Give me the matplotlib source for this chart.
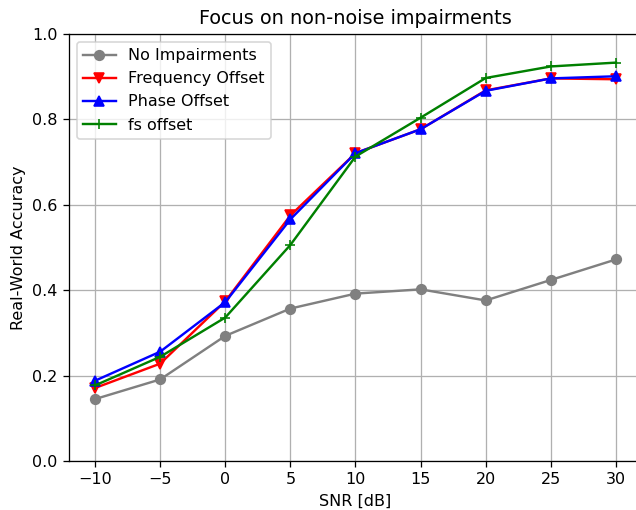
import numpy as np
import matplotlib.pyplot as plt

snr = [-10, -5, 0, 5, 10, 15, 20, 25, 30]
no_imp = [0.145, 0.191, 0.293, 0.357, 0.392, 0.402, 0.376, 0.424, 0.472]
freq_off = [0.171, 0.228, 0.374, 0.575, 0.721, 0.777, 0.868, 0.896, 0.894]
phase_off = [0.188, 0.256, 0.372, 0.566, 0.721, 0.777, 0.867, 0.896, 0.901]
fs_off = [0.177, 0.244, 0.336, 0.506, 0.713, 0.804, 0.897, 0.924, 0.933]

# reference looks like a default figure rendered at ~115 dpi, cropped on the right
dpi = 115.5
fig = plt.figure(figsize=(636 / dpi, 510 / dpi), dpi=dpi)
ax = fig.add_axes([69 / 636, 49 / 510, 573 / 636, 427 / 510])
ax.plot(snr, no_imp, 'o-', color='gray', label='No Impairments')
ax.plot(snr, freq_off, 'v-', color='red', label='Frequency Offset')
ax.plot(snr, phase_off, '^-', color='blue', label='Phase Offset')
ax.plot(snr, fs_off, '+-', color='green', label='fs offset')
ax.set_ylim(0, 1)
ax.set_xticks(snr)
ax.grid(True)
ax.spines['right'].set_visible(False)  # cut off in the reference
ax.set_title('Focus on non-noise impairments')
ax.set_xlabel('SNR [dB]')
ax.set_ylabel('Real-World Accuracy')
ax.legend(loc='upper left')
fig.savefig('out.png', dpi=dpi)
